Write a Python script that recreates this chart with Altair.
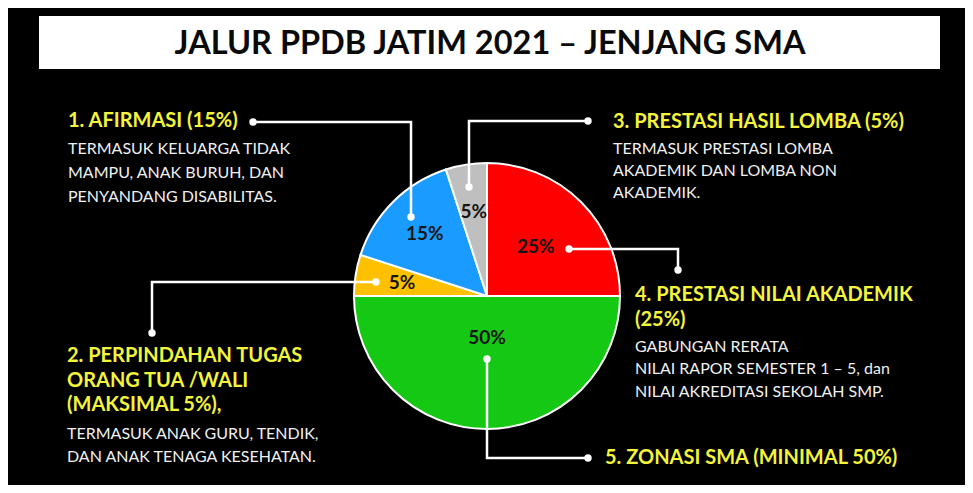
import altair as alt
import pandas as pd

# ---------------- data ----------------
title_text = "JALUR PPDB JATIM 2021 – JENJANG SMA"

categories = ["Prestasi Nilai Akademik", "Zonasi", "Perpindahan Tugas Orang Tua/Wali",
              "Afirmasi", "Prestasi Hasil Lomba"]
shares = [25, 50, 5, 15, 5]
slice_colors = ["#FF0000", "#14C814", "#FFC000", "#1A9BFF", "#BFBFBF"]

heading_lines = ["1. AFIRMASI (15%)", "3. PRESTASI HASIL LOMBA (5%)",
                 "4. PRESTASI NILAI AKADEMIK", "(25%)",
                 "2. PERPINDAHAN TUGAS", "ORANG TUA /WALI", "(MAKSIMAL 5%),",
                 "5. ZONASI SMA (MINIMAL 50%)"]
desc_lines = ["TERMASUK KELUARGA TIDAK", "MAMPU, ANAK BURUH, DAN", "PENYANDANG DISABILITAS.",
              "TERMASUK PRESTASI LOMBA", "AKADEMIK DAN LOMBA NON", "AKADEMIK.",
              "GABUNGAN RERATA", "NILAI RAPOR SEMESTER 1 – 5, dan", "NILAI AKREDITASI SEKOLAH SMP.",
              "TERMASUK ANAK GURU, TENDIK,", "DAN ANAK TENAGA KESEHATAN."]

# ---------------- layout ----------------
W, H = 957, 477
X0, Y0 = 8, 8
PIE_CX, PIE_CY, PIE_R = 487, 296, 133
label_radius = [69, 42, 86, 88, 85]
title_box = (39, 940, 16, 69)
title_pos = (490, 44)
heading_x = [68, 613, 635, 635, 67, 67, 67, 605]
heading_y = [121, 122, 295, 320, 356, 381, 405, 458]
desc_x = [68, 68, 68, 613, 613, 613, 635, 635, 635, 67, 67]
desc_y = [149, 173, 197, 149, 171, 193, 347, 369, 392, 434, 457]
connectors = [
    [(253, 122), (411, 122), (411, 217)],
    [(152, 333), (152, 282), (376, 282)],
    [(588, 121), (469, 121), (469, 187)],
    [(569, 249), (678, 249), (678, 270)],
    [(487, 359), (487, 458), (588, 458)],
]

FONT = "Lato"
YELLOW = "#F4F43C"
WHITE = "#F0F0F0"
TWO_PI = 6.283185307179586

xs = alt.Scale(domain=[X0, X0 + W])
ys = alt.Scale(domain=[Y0, Y0 + H], reverse=True)

# title box
box_df = pd.DataFrame([{"x": title_box[0], "x2": title_box[1], "y": title_box[2], "y2": title_box[3]}])
box = alt.Chart(box_df).mark_rect(color="white").encode(
    x=alt.X("x:Q", scale=xs, axis=None), x2="x2:Q",
    y=alt.Y("y:Q", scale=ys, axis=None), y2="y2:Q")

title_df = pd.DataFrame([{"t": title_text, "x": title_pos[0], "y": title_pos[1]}])
title = alt.Chart(title_df).mark_text(font=FONT, fontSize=32.5, fontWeight="bold",
                                      color="#0A0A0A", align="center", baseline="middle").encode(
    x=alt.X("x:Q", scale=xs, axis=None), y=alt.Y("y:Q", scale=ys, axis=None), text="t:N")

# pie
pie_df = pd.DataFrame({
    "category": categories,
    "share": shares,
    "ord": list(range(len(categories))),
    "label": [f"{s}%" for s in shares],
    "lr": label_radius,
})
theta_scale = alt.Scale(domain=[0, 100], range=[0, TWO_PI])
arc = alt.Chart(pie_df).mark_arc(radius=PIE_R, stroke="white", strokeWidth=2).encode(
    theta=alt.Theta("share:Q", stack=True, scale=theta_scale),
    order=alt.Order("ord:Q"),
    color=alt.Color("category:N", scale=alt.Scale(domain=categories, range=slice_colors), legend=None),
    x=alt.value(PIE_CX - X0), y=alt.value(PIE_CY - Y0))

plabels = alt.Chart(pie_df).transform_window(
    cum="sum(share)", sort=[alt.SortField("ord")], frame=[None, 0]
).transform_calculate(
    mid="datum.cum - datum.share / 2"
).mark_text(font=FONT, fontSize=19, fontWeight="bold", color="#151515").encode(
    theta=alt.Theta("mid:Q", stack=None, scale=theta_scale),
    radius=alt.Radius("lr:Q", scale=None),
    text="label:N",
    x=alt.value(PIE_CX - X0), y=alt.value(PIE_CY - Y0))

# connectors
rows, dots = [], []
for ci, pts in enumerate(connectors):
    for pi, (px, py) in enumerate(pts):
        rows.append({"cid": ci, "idx": pi, "x": px, "y": py})
    dots.append({"x": pts[0][0], "y": pts[0][1]})
    dots.append({"x": pts[-1][0], "y": pts[-1][1]})
conn_df = pd.DataFrame(rows)
dot_df = pd.DataFrame(dots)
lines = alt.Chart(conn_df).mark_line(color="white", strokeWidth=2.5).encode(
    x=alt.X("x:Q", scale=xs, axis=None), y=alt.Y("y:Q", scale=ys, axis=None),
    detail="cid:N", order="idx:Q")
dot = alt.Chart(dot_df).mark_circle(color="white", opacity=1, size=55).encode(
    x=alt.X("x:Q", scale=xs, axis=None), y=alt.Y("y:Q", scale=ys, axis=None))

# annotation text
head_df = pd.DataFrame({"t": heading_lines, "x": heading_x, "y": heading_y})
desc_df = pd.DataFrame({"t": desc_lines, "x": desc_x, "y": desc_y})
heads = alt.Chart(head_df).mark_text(font=FONT, fontSize=20, fontWeight="bold", color=YELLOW,
                                     align="left", baseline="middle").encode(
    x=alt.X("x:Q", scale=xs, axis=None), y=alt.Y("y:Q", scale=ys, axis=None), text="t:N")
descs = alt.Chart(desc_df).mark_text(font=FONT, fontSize=16, color=WHITE,
                                     align="left", baseline="middle").encode(
    x=alt.X("x:Q", scale=xs, axis=None), y=alt.Y("y:Q", scale=ys, axis=None), text="t:N")

chart = alt.layer(box, title, arc, plabels, lines, dot, heads, descs).properties(
    width=W, height=H, autosize=alt.AutoSizeParams(type="none"), padding=0,
    background="black"
).configure_view(stroke=None)

chart.save("out.html", embed_options={"renderer": "svg", "actions": False})
